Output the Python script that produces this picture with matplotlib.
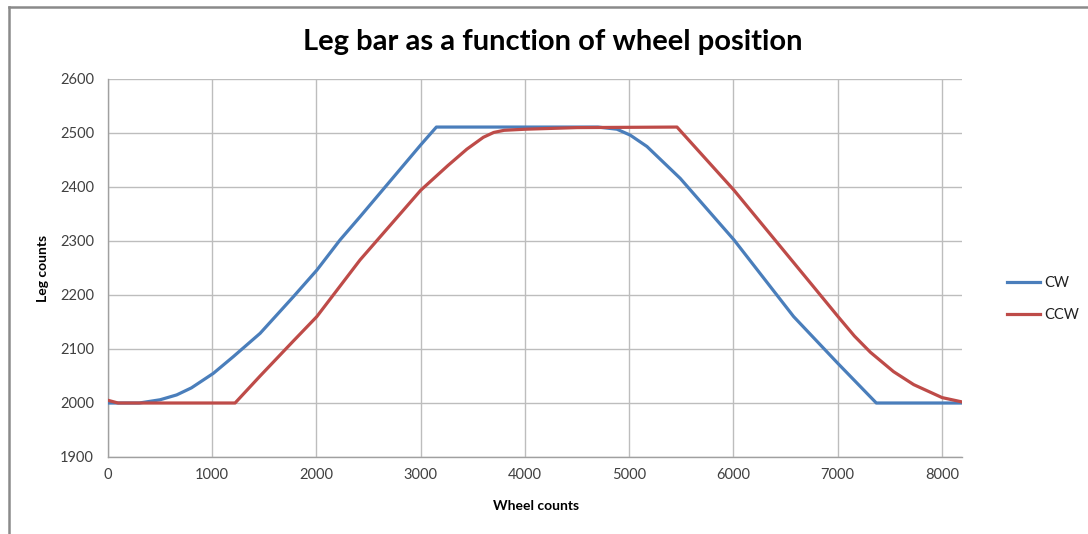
import matplotlib
matplotlib.use("Agg")
import matplotlib.pyplot as plt
from matplotlib.lines import Line2D

# Data
cw_x = [0, 300, 500, 659, 800, 1011, 1203, 1459, 1779, 2003, 2226, 2418, 3000, 3150,
        4700, 4882, 5010, 5170, 5489, 6005, 6577, 7003, 7370, 8192]
cw_y = [2000, 2000, 2006, 2015, 2028, 2055, 2086, 2129, 2197, 2246, 2302, 2345, 2478, 2511,
        2511, 2507, 2496, 2475, 2416, 2302, 2160, 2073, 2000, 2000]

ccw_x = [0, 96, 1219, 1459, 1779, 2003, 2418, 3000, 3262, 3442, 3600, 3700, 3800,
         4002, 4500, 5458, 6005, 6385, 6769, 7003, 7160, 7313, 7536, 7729, 8001, 8192]
ccw_y = [2005, 2000, 2000, 2050, 2115, 2160, 2265, 2394, 2440, 2470, 2492, 2501, 2505,
         2507, 2510, 2511, 2394, 2305, 2215, 2160, 2124, 2094, 2058, 2034, 2010, 2002]

x_ticks = [0, 1000, 2000, 3000, 4000, 5000, 6000, 7000, 8000]
y_ticks = [1900, 2000, 2100, 2200, 2300, 2400, 2500, 2600]

title = "Leg bar as a function of wheel position"
xlabel = "Wheel counts"
ylabel = "Leg counts"
labels = ["CW", "CCW"]

plt.rcParams['font.family'] = ['Lato', 'DejaVu Sans']

fig = plt.figure(figsize=(10.88, 5.34), dpi=100)
ax = fig.add_axes([108/1088, 1-457/534, (962-108)/1088, (457-79)/534])

blue = "#4A7EBB"
red = "#BE4B48"
ax.plot(cw_x, cw_y, color=blue, lw=2.3, solid_joinstyle='round', zorder=3)
ax.plot(ccw_x, ccw_y, color=red, lw=2.3, solid_joinstyle='round', zorder=3)

ax.set_xlim(0, 8192)
ax.set_ylim(1900, 2600)
ax.set_xticks(x_ticks)
ax.set_yticks(y_ticks)
ax.set_xticklabels([str(t) for t in x_ticks])
ax.set_yticklabels([str(t) for t in y_ticks])
ax.tick_params(length=0, labelsize=10.5, colors="#404040", pad=8)
ax.tick_params(axis='y', pad=10)
ax.grid(True, color="#BDBDBD", lw=1.0, zorder=0)
ax.set_axisbelow(True)
for s in ['top', 'right']:
    ax.spines[s].set_visible(False)
for s in ['left', 'bottom']:
    ax.spines[s].set_color("#A0A0A0")
    ax.spines[s].set_linewidth(1.0)

fig.text(553/1088, 1-42/534, title, ha='center', va='center',
         fontsize=21, fontweight='bold', color='#000000')
fig.text(536/1088, 1-506/534, xlabel, ha='center', va='center',
         fontsize=10, fontweight='bold', color='#000000')
fig.text(43/1088, 1-268/534, ylabel, ha='center', va='center',
         fontsize=10, fontweight='bold', rotation=90, color='#000000')

handles = [Line2D([], [], color=blue, lw=2.3), Line2D([], [], color=red, lw=2.3)]
leg = fig.legend(handles, labels, loc='center left',
                 bbox_to_anchor=(1001/1088, 1-299/534), frameon=False,
                 fontsize=10.5, handlelength=2.3, handletextpad=0.25,
                 labelspacing=1.2, borderaxespad=0.0)
for t in leg.get_texts():
    t.set_color("#202020")

# frame border (top and left)
fig.add_artist(Line2D([9/1088, 1], [1-7/534, 1-7/534], transform=fig.transFigure,
                      color="#8A8A8A", lw=1.8))
fig.add_artist(Line2D([9/1088, 9/1088], [0, 1-7/534], transform=fig.transFigure,
                      color="#8A8A8A", lw=1.8))

fig.savefig("out.png", dpi=100)
